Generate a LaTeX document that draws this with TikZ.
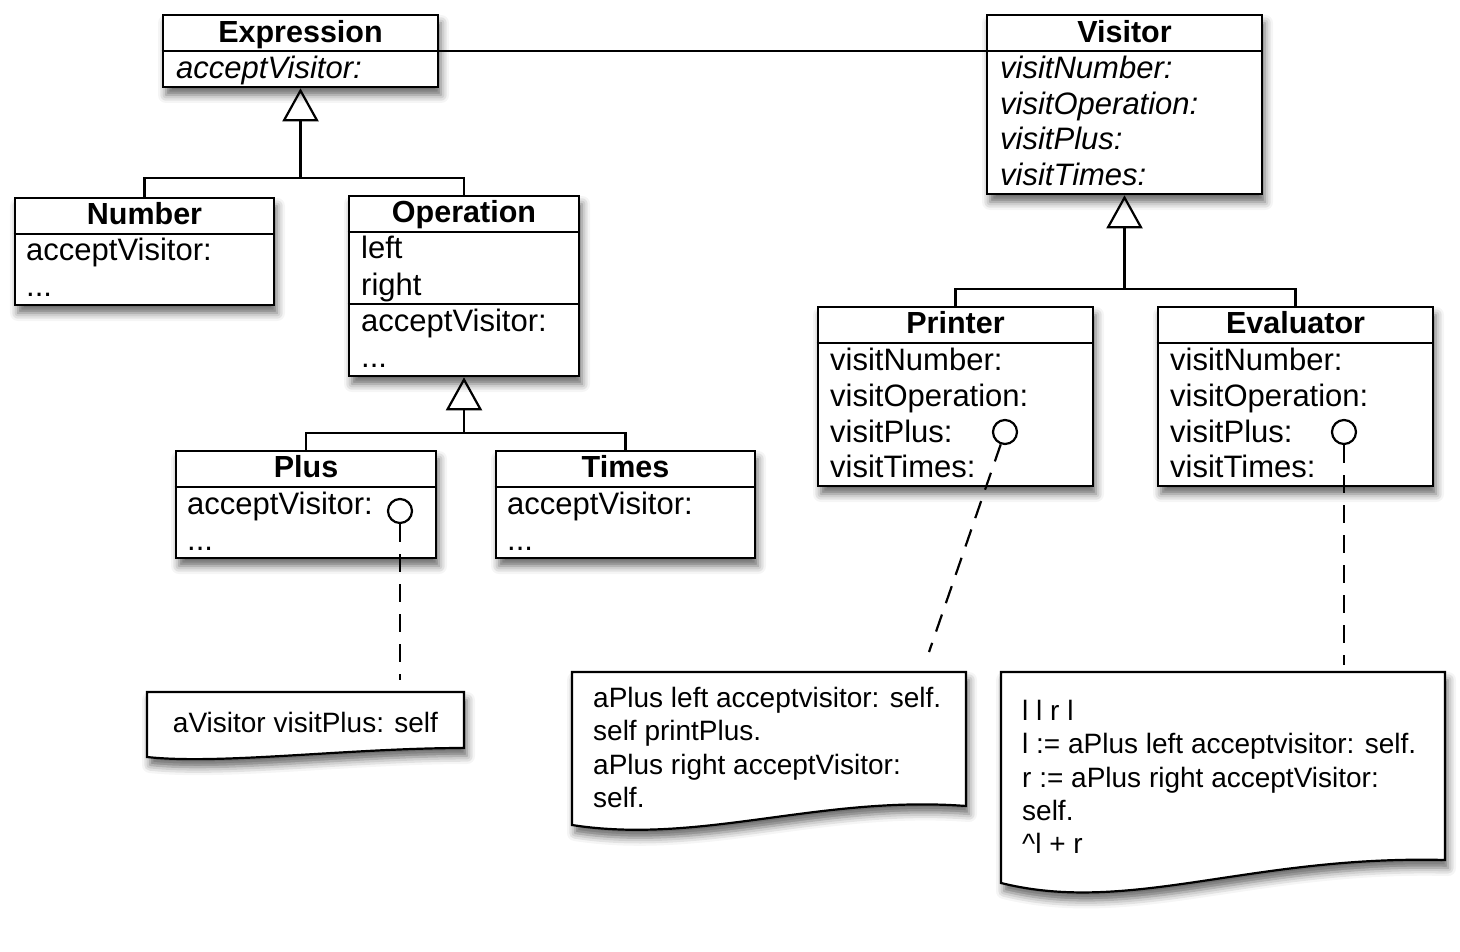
\documentclass[tikz,border=0pt]{standalone}
\usepackage{fontspec}
\setmainfont{Liberation Sans}
\usetikzlibrary{shadows.blur,arrows.meta}
\begin{document}
\begin{tikzpicture}[x=1pt,y=-1pt,
  shad/.style={blur shadow={shadow xshift=3pt, shadow yshift=-8pt, shadow blur radius=8pt, shadow opacity=60}},
  cls/.style={draw, line width=2.6pt, fill=white, inner sep=0pt, shad},
  ttl/.style={font=\fontsize{30.5}{36}\selectfont\bfseries, inner sep=0pt, anchor=base},
  mth/.style={font=\fontsize{31}{36}\selectfont, inner sep=0pt, anchor=base west},
  imth/.style={font=\fontsize{31}{36}\selectfont\itshape, inner sep=0pt, anchor=base west},
  sepline/.style={line width=2pt},
  conn/.style={line width=2.2pt},
  gen/.style={conn, -{Triangle[open, width=36pt, length=33pt]}},
  circ/.style={circle, draw, fill=white, line width=2.2pt, minimum size=24pt, inner sep=0pt},
  dsh/.style={line width=2.2pt, dash pattern=on 18pt off 12pt},
  note/.style={draw, fill=white, line width=2.2pt, shad},
  ntxt/.style={font=\fontsize{28}{33.3}\selectfont, inner sep=0pt, align=left, anchor=north west}
]
\useasboundingbox (0,0) rectangle (1460,952);

% ---------- notes ----------
\path[note] (147,692) -- (464,692) -- (464,748) .. controls (350,748) and (220,765) .. (147,757) -- cycle;
\node[font=\fontsize{28}{33.3}\selectfont, inner sep=0pt, anchor=base] (n1) at (305.5,732) {aVisitor visitPlus: self};

\path[note] (572,672) -- (966,672) -- (966,806) .. controls (820,795) and (700,845) .. (572,825) -- cycle;
\node[ntxt] (n2) at (593,687) {aPlus left acceptvisitor: self.\\self printPlus.\\aPlus right acceptVisitor:\\self.};

\path[note] (1001,672) -- (1445,672) -- (1445,860) .. controls (1250,855) and (1130,915) .. (1001,883) -- cycle;
\node[ntxt] (n3) at (1022,700) {l l r l\\l := aPlus left acceptvisitor: self.\\r := aPlus right acceptVisitor:\\self.\\\^{}l + r};

\coordinate (n1tip) at (400,680);
\coordinate (n2tip) at (929,652);
\coordinate (n3tip) at (1344,665);

% ---------- class boxes ----------
\node[cls, minimum width=275pt, minimum height=72pt] (expr) at (300.5,51) {};
\node[cls, minimum width=275pt, minimum height=179pt] (visitor) at (1124.5,104.5) {};
\node[cls, minimum width=259pt, minimum height=107pt] (number) at (144.5,251.5) {};
\node[cls, minimum width=230pt, minimum height=180pt] (operation) at (464,286) {};
\node[cls, minimum width=260pt, minimum height=107pt] (plus) at (306,504.5) {};
\node[cls, minimum width=259pt, minimum height=107pt] (times) at (625.5,504.5) {};
\node[cls, minimum width=275pt, minimum height=179pt] (printer) at (955.5,396.5) {};
\node[cls, minimum width=275pt, minimum height=179pt] (evaluator) at (1295.5,396.5) {};

% separators
\draw[sepline] (expr.west |- 0,51) -- (expr.east |- 0,51);
\draw[sepline] (visitor.west |- 0,51) -- (visitor.east |- 0,51);
\draw[sepline] (number.west |- 0,234) -- (number.east |- 0,234);
\draw[sepline] (operation.west |- 0,232) -- (operation.east |- 0,232);
\draw[sepline] (operation.west |- 0,304) -- (operation.east |- 0,304);
\draw[sepline] (plus.west |- 0,487) -- (plus.east |- 0,487);
\draw[sepline] (times.west |- 0,487) -- (times.east |- 0,487);
\draw[sepline] (printer.west |- 0,343) -- (printer.east |- 0,343);
\draw[sepline] (evaluator.west |- 0,343) -- (evaluator.east |- 0,343);

% texts
\node[ttl] (exprT) at (300.5,43) {Expression};
\node[imth] (exprM) at (176,79) {acceptVisitor:};

\node[ttl] (visT) at (1124.5,43) {Visitor};
\node[imth] (visM1) at (1000,79) {visitNumber:};
\node[imth] (visM2) at (1000,115) {visitOperation:};
\node[imth] (visM3) at (1000,150) {visitPlus:};
\node[imth] (visM4) at (1000,186) {visitTimes:};

\node[ttl] (numT) at (144.5,225) {Number};
\node[mth] (numM1) at (26,261) {acceptVisitor:};
\node[mth] (numM2) at (26,297) {...};

\node[ttl] (opT) at (464,223) {Operation};
\node[mth] (opA1) at (361,259) {left};
\node[mth] (opA2) at (361,295) {right};
\node[mth] (opM1) at (361,331) {acceptVisitor:};
\node[mth] (opM2) at (361,367) {...};

\node[ttl] (plusT) at (306,477) {Plus};
\node[mth] (plusM1) at (187,514) {acceptVisitor:};
\node[mth] (plusM2) at (187,550) {...};

\node[ttl] (timesT) at (625.5,477) {Times};
\node[mth] (timesM1) at (507,514) {acceptVisitor:};
\node[mth] (timesM2) at (507,550) {...};

\node[ttl] (prT) at (955.5,333) {Printer};
\node[mth] (prM1) at (830,370) {visitNumber:};
\node[mth] (prM2) at (830,406) {visitOperation:};
\node[mth] (prM3) at (830,442) {visitPlus:};
\node[mth] (prM4) at (830,477) {visitTimes:};

\node[ttl] (evT) at (1295.5,333) {Evaluator};
\node[mth] (evM1) at (1170,370) {visitNumber:};
\node[mth] (evM2) at (1170,406) {visitOperation:};
\node[mth] (evM3) at (1170,442) {visitPlus:};
\node[mth] (evM4) at (1170,477) {visitTimes:};

% ---------- connectors ----------
\draw[conn] (expr.east) -- (expr.east -| visitor.west);

\coordinate (jE) at (300.5,178);
\draw[conn] (number.north) |- (jE) -| (operation.north);
\draw[gen] (jE) -- (expr.south);

\coordinate (jO) at (464,433);
\draw[conn] (plus.north) |- (jO) -| (times.north);
\draw[gen] (jO) -- (operation.south);

\coordinate (jV) at (1124.5,289);
\draw[conn] (printer.north) |- (jV) -| (evaluator.north);
\draw[gen] (jV) -- (visitor.south);

% anchors and dashed links
\node[circ] (pc) at (400,511) {};
\node[circ] (prc) at (1005,432) {};
\node[circ] (evc) at (1344,432) {};
\draw[dsh] (pc) -- (n1tip);
\draw[dsh] (prc) -- (n2tip);
\draw[dsh] (evc) -- (n3tip);
\end{tikzpicture}
\end{document}
